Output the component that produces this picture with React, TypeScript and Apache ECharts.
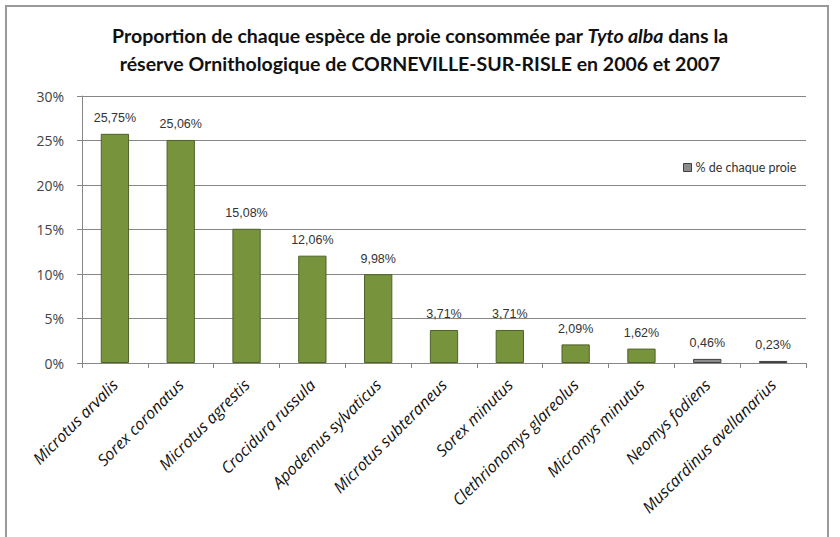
import React, { useEffect, useRef } from "react";
import * as echarts from "echarts";

const categories = [
  "Microtus arvalis",
  "Sorex coronatus",
  "Microtus agrestis",
  "Crocidura russula",
  "Apodemus sylvaticus",
  "Microtus subteraneus",
  "Sorex minutus",
  "Clethrionomys glareolus",
  "Micromys minutus",
  "Neomys fodiens",
  "Muscardinus avellanarius",
];
const percentValues = [25.75, 25.06, 15.08, 12.06, 9.98, 3.71, 3.71, 2.09, 1.62, 0.46, 0.23];
const yTicks = [0, 5, 10, 15, 20, 25, 30];
const seriesName = "% de chaque proie";
const titleLine1a = "Proportion de chaque espèce de proie consommée par ";
const titleItalic = "Tyto alba";
const titleLine1b = " dans la";
const titleLine2 = "réserve Ornithologique de CORNEVILLE-SUR-RISLE en 2006 et 2007";

const GREEN = "#77933C";
const GREEN_BORDER = "#4F6228";
const GRAY = "#8C8C8C";
const GRAY_BORDER = "#404040";
const GRAY_START_INDEX = 9;

export default function App() {
  const ref = useRef<HTMLDivElement>(null);
  useEffect(() => {
    if (!ref.current) return;
    const chart = echarts.init(ref.current, null, { renderer: "svg" });
    const fmt = (v: number) => v.toFixed(2).replace(".", ",") + "%";
    const titleFont = { fontFamily: "Lato", fontWeight: "bold", fontSize: 19.5, color: "#111", lineHeight: 28 };
    chart.setOption({
      animation: false,
      backgroundColor: "#ffffff",
      title: {
        text:
          "{b|" + titleLine1a + "}{bi|" + titleItalic + "}{b|" + titleLine1b + "}\n{b|" + titleLine2 + "}",
        left: "center",
        top: 16,
        textStyle: {
          rich: {
            b: titleFont,
            bi: { ...titleFont, fontStyle: "italic" },
          },
        },
      },
      graphic: [
        {
          type: "rect",
          shape: { x: 6, y: 6, width: 822, height: 545 },
          style: { fill: "none", stroke: "#9a9a9a", lineWidth: 2 },
          silent: true,
        },
      ],
      legend: {
        data: [seriesName],
        left: 678,
        top: 156,
        itemWidth: 8,
        itemHeight: 8,
        itemGap: 5,
        icon: "rect",
        itemStyle: { color: GRAY, borderColor: GRAY_BORDER, borderWidth: 1 },
        textStyle: { fontFamily: "Lato", fontSize: 12.5, color: "#333", padding: [0, 0, 0, -1] },
      },
      grid: { left: 82, right: 34, top: 96, bottom: 174, containLabel: false },
      xAxis: {
        type: "category",
        data: categories,
        axisLine: { lineStyle: { color: "#868686", width: 1 } },
        axisTick: { show: true, length: 5, lineStyle: { color: "#868686" } },
        axisLabel: {
          rotate: 45,
          interval: 0,
          margin: 19,
          fontFamily: "Open Sans",
          fontStyle: "italic",
          fontSize: 16,
          color: "#111",
        },
      },
      yAxis: {
        type: "value",
        min: yTicks[0],
        max: yTicks[yTicks.length - 1],
        interval: yTicks[1] - yTicks[0],
        axisLine: { show: true, lineStyle: { color: "#868686" } },
        axisTick: { show: true, length: 5, lineStyle: { color: "#868686" } },
        splitLine: { show: true, lineStyle: { color: "#868686", width: 1 } },
        axisLabel: {
          formatter: (v: number) => v + "%",
          fontFamily: "Open Sans",
          fontSize: 14,
          color: "#444",
          margin: 18,
        },
      },
      series: [
        {
          name: seriesName,
          type: "bar",
          barWidth: "43%",
          data: percentValues.map((v, i) => ({
            value: v,
            itemStyle:
              i >= GRAY_START_INDEX
                ? { color: GRAY, borderColor: GRAY_BORDER, borderWidth: 1 }
                : { color: GREEN, borderColor: GREEN_BORDER, borderWidth: 1 },
          })),
          label: {
            show: true,
            position: "top",
            distance: 9,
            formatter: (p: any) => fmt(p.value),
            fontFamily: "Liberation Sans",
            fontSize: 12.5,
            color: "#333",
          },
        },
      ],
    });
    return () => chart.dispose();
  }, []);
  return (
    <div
      ref={ref}
      style={{ position: "fixed", left: 0, top: 0, width: 840, height: 537 }}
    />
  );
}
